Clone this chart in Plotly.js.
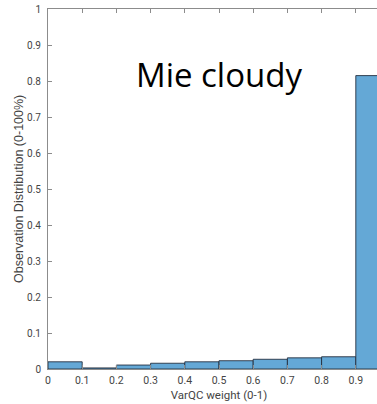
<!DOCTYPE html>
<html>
<head>
<meta charset="utf-8">
<script src="https://cdn.plot.ly/plotly-3.0.1.min.js"></script>
<style>
  html, body { margin: 0; padding: 0; overflow: hidden; background: #fff; }
  #chart { width: 400px; height: 404px; }
</style>
</head>
<body>
<div id="chart"></div>
<script>
// Histogram of VarQC weights (10 bins over 0-1)
const binEdges = [0, 0.1, 0.2, 0.3, 0.4, 0.5, 0.6, 0.7, 0.8, 0.9, 1.0];
const binFractions = [0.020, 0.003, 0.011, 0.016, 0.020, 0.023, 0.027, 0.031, 0.034, 0.815];
const xTicks = [0, 0.1, 0.2, 0.3, 0.4, 0.5, 0.6, 0.7, 0.8, 0.9];
const yTicks = [0, 0.1, 0.2, 0.3, 0.4, 0.5, 0.6, 0.7, 0.8, 0.9, 1];

const centers = binFractions.map((_, i) => (binEdges[i] + binEdges[i + 1]) / 2);
const widths = binFractions.map((_, i) => binEdges[i + 1] - binEdges[i]);

const labelFont = 'Roboto, Liberation Sans, sans-serif';

const trace = {
  type: 'bar',
  x: centers,
  y: binFractions,
  width: widths,
  marker: {
    color: 'rgb(100,168,214)',
    line: { color: 'rgba(30,40,55,0.85)', width: 1 }
  },
  hoverinfo: 'none'
};

const axisCommon = {
  showline: true,
  linecolor: '#8c8c8c',
  linewidth: 1,
  mirror: 'ticks',
  ticks: 'inside',
  ticklen: 4,
  tickcolor: '#8c8c8c',
  showgrid: false,
  zeroline: false,
  tickfont: { family: labelFont, size: 10.5, color: '#444' }
};

const layout = {
  width: 400,
  height: 404,
  margin: { l: 48, r: 10, t: 9, b: 35 },
  paper_bgcolor: '#fff',
  plot_bgcolor: '#fff',
  showlegend: false,
  bargap: 0,
  title: {
    text: 'Mie cloudy',
    font: { family: 'Open Sans, sans-serif', size: 33, color: '#000' },
    xref: 'paper', x: 0.5, xanchor: 'center',
    yref: 'paper', y: 0.815, yanchor: 'middle'
  },
  xaxis: Object.assign({}, axisCommon, {
    range: [0, 1],
    tickvals: xTicks,
    ticktext: xTicks.map(String),
    ticklabelstandoff: 1,
    title: { text: 'VarQC weight (0-1)', font: { family: labelFont, size: 11.5, color: '#444' }, standoff: 5 }
  }),
  yaxis: Object.assign({}, axisCommon, {
    range: [0, 1],
    tickvals: yTicks,
    ticktext: yTicks.map(String),
    tickfont: { family: labelFont, size: 10, color: '#444' },
    ticklabelstandoff: 4
  }),
  annotations: [{
    text: 'Observation Distribution (0-100%)',
    textangle: -90,
    xref: 'paper', x: 0, xanchor: 'center', xshift: -29,
    yref: 'paper', y: 0.5, yanchor: 'middle',
    showarrow: false,
    font: { family: 'Liberation Sans, Arial, sans-serif', size: 12.5, color: '#444' }
  }]
};

Plotly.newPlot('chart', [trace], layout, { staticPlot: true, displayModeBar: false });
</script>
</body>
</html>
